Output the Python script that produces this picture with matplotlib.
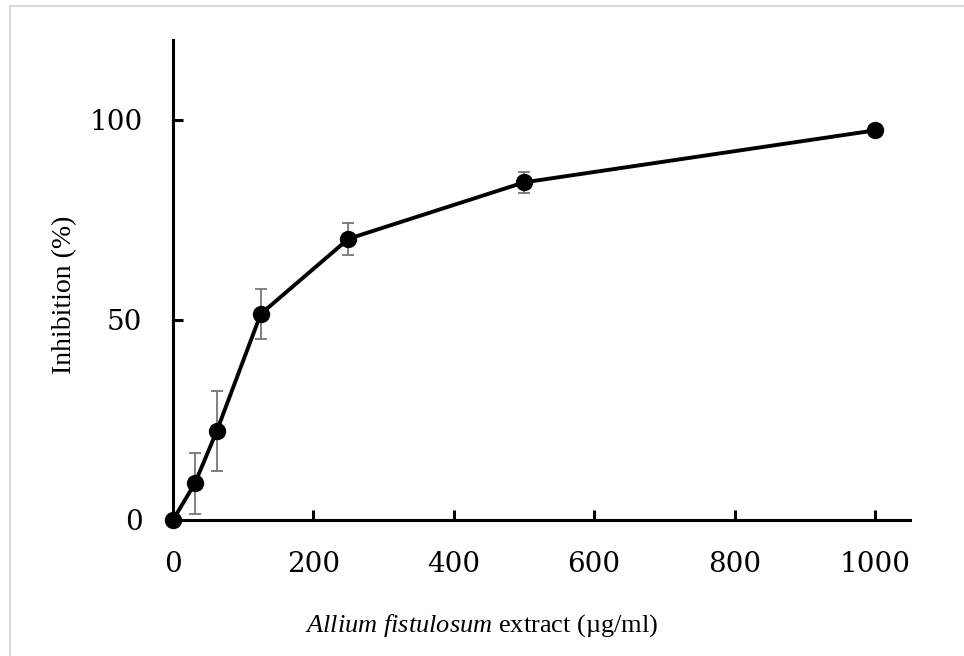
import matplotlib
matplotlib.use('Agg')
import matplotlib.pyplot as plt
from matplotlib.lines import Line2D

# concentration of extract (ug/ml) and inhibition (%)
conc = [0, 31.25, 62.5, 125, 250, 500, 1000]
inhib = [0, 9.2, 22.3, 51.5, 70.3, 84.4, 97.4]
err = [0, 7.6, 10.0, 6.2, 4.0, 2.6, 0.4]

xticks = [0, 200, 400, 600, 800, 1000]
yticks = [0, 50, 100]

plt.rcParams['mathtext.fontset'] = 'custom'
plt.rcParams['mathtext.it'] = 'Liberation Serif:italic'
plt.rcParams['mathtext.rm'] = 'Liberation Serif'

fig = plt.figure(figsize=(9.64, 6.56), dpi=100)
ax = fig.add_axes([173 / 964, 1 - 520 / 656, 737 / 964, 480 / 656])

# light grey frame around the picture
fig.add_artist(Line2D([9.5 / 964, 1], [1 - 6 / 656, 1 - 6 / 656], color='#d9d9d9', lw=1.5))
fig.add_artist(Line2D([9.5 / 964, 9.5 / 964], [0, 1 - 6 / 656], color='#d9d9d9', lw=1.5))

ax.errorbar(conc, inhib, yerr=err, fmt='none', ecolor='#767676', elinewidth=1.3,
            capsize=4.5, capthick=1.3, zorder=2)
ax.plot(conc, inhib, color='black', lw=2.8, marker='o', markersize=11.5, zorder=3,
        clip_on=False)

ax.set_xlim(0, 1050)
ax.set_ylim(0, 120)
ax.set_xticks(xticks)
ax.set_yticks(yticks)
for s in ['top', 'right']:
    ax.spines[s].set_visible(False)
for s in ['left', 'bottom']:
    ax.spines[s].set_linewidth(2.2)
ax.tick_params(direction='in', length=7, width=2.2, pad=22)
for lab in ax.get_xticklabels() + ax.get_yticklabels():
    lab.set_fontfamily('DejaVu Serif')
    lab.set_fontsize(20)

ax.set_xlabel(r'$Allium\ fistulosum$ extract (µg/ml)', fontfamily='Liberation Serif', fontsize=19)
ax.set_ylabel('Inhibition (%)', fontfamily='Liberation Serif', fontsize=20)
ax.xaxis.set_label_coords(0.419, -0.192)
ax.yaxis.set_label_coords(-0.130, 0.47)

plt.savefig('out.png', dpi=100)
plt.close()
